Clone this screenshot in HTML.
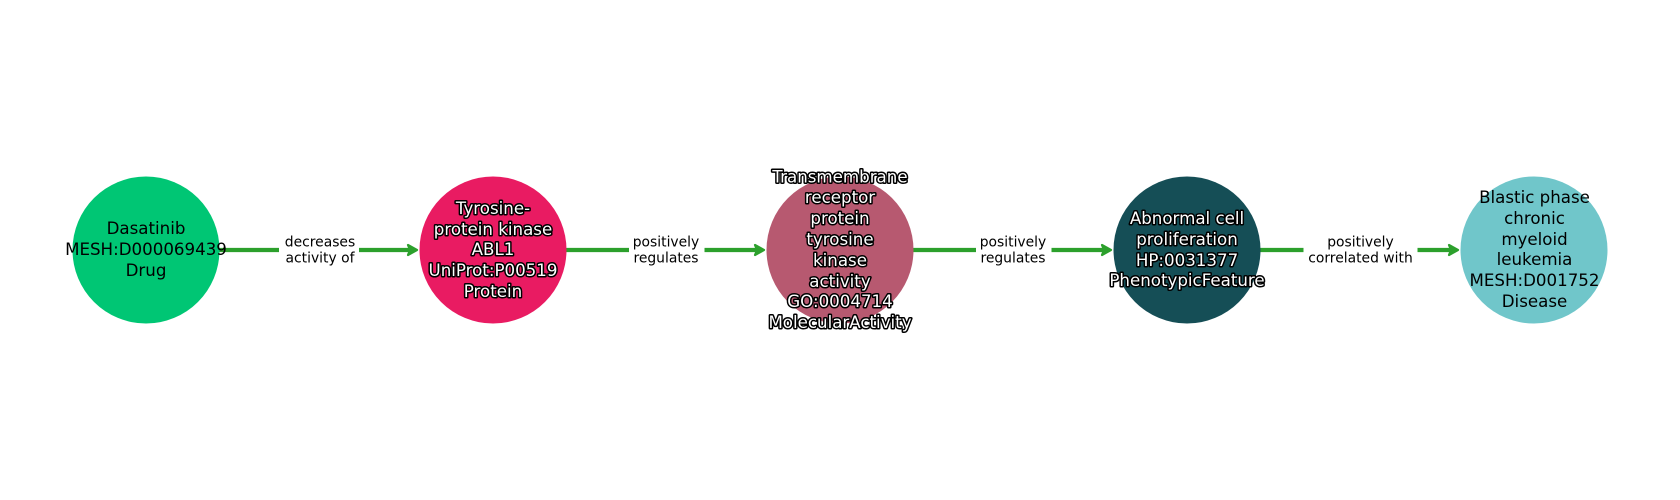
<!DOCTYPE html>
<html><head><meta charset="utf-8"><style>
html,body{margin:0;padding:0;background:#fff;width:1680px;height:500px;overflow:hidden}
svg{display:block}
text{font-family:"DejaVu Sans","Liberation Sans",sans-serif;text-anchor:middle}
.n{font-size:16.67px;fill:#000}
.w{font-size:16.67px;fill:#fff;stroke:#000;stroke-width:3px;paint-order:stroke fill;stroke-linejoin:round}
.e{font-size:13.89px;fill:#000}
</style></head><body>
<svg width="1680" height="500" viewBox="0 0 1680 500" xmlns="http://www.w3.org/2000/svg">
<rect width="1680" height="500" fill="#fff"/>
<g stroke="#2ca02c" stroke-width="4.2" fill="none">
<path d="M146 250H412"/><path d="M493 250H759"/><path d="M840 250H1106"/><path d="M1187 250H1453"/>
</g>
<g fill="#2ca02c" stroke="#2ca02c" stroke-width="2.2" stroke-linejoin="round">
<path d="M408 245L417 250L408 255L410 250Z"/>
<path d="M755 245L764 250L755 255L757 250Z"/>
<path d="M1102 245L1111 250L1102 255L1104 250Z"/>
<path d="M1449 245L1458 250L1449 255L1451 250Z"/>
</g>
<circle cx="146" cy="250" r="73.500" fill="#00c674"/>
<circle cx="493" cy="250" r="73.500" fill="#e91b62"/>
<circle cx="840" cy="250" r="73.500" fill="#b75970"/>
<circle cx="1187" cy="250" r="73.500" fill="#154e56"/>
<circle cx="1534" cy="250" r="73.500" fill="#70c6ca"/>
<rect x="279" y="228" width="80" height="44" fill="#fff"/>
<rect x="629" y="228" width="75.500" height="44" fill="#fff"/>
<rect x="976" y="228" width="75.500" height="44" fill="#fff"/>
<rect x="1303.500" y="228" width="114" height="44" fill="#fff"/>
<text class="e" x="320" y="246.500">decreases</text><text class="e" x="320" y="262.500">activity of</text>
<text class="e" x="666" y="246.500">positively</text><text class="e" x="666" y="262.500">regulates</text>
<text class="e" x="1013" y="246.500">positively</text><text class="e" x="1013" y="262.500">regulates</text>
<text class="e" x="1360.500" y="246.500">positively</text><text class="e" x="1360.500" y="262.500">correlated with</text>
<text class="n" x="146" y="234">Dasatinib</text>
<text class="n" x="146" y="255">MESH:D000069439</text>
<text class="n" x="146" y="276">Drug</text>
<text class="w" x="493" y="214">Tyrosine-</text>
<text class="w" x="493" y="235">protein kinase</text>
<text class="w" x="493" y="255">ABL1</text>
<text class="w" x="493" y="276">UniProt:P00519</text>
<text class="w" x="493" y="297">Protein</text>
<text class="w" x="840" y="182.500">Transmembrane</text>
<text class="w" x="840" y="203">receptor</text>
<text class="w" x="840" y="224">protein</text>
<text class="w" x="840" y="245">tyrosine</text>
<text class="w" x="840" y="266">kinase</text>
<text class="w" x="840" y="287">activity</text>
<text class="w" x="840" y="307">GO:0004714</text>
<text class="w" x="840" y="328">MolecularActivity</text>
<text class="w" x="1187" y="224">Abnormal cell</text>
<text class="w" x="1187" y="245">proliferation</text>
<text class="w" x="1187" y="266">HP:0031377</text>
<text class="w" x="1187" y="286">PhenotypicFeature</text>
<text class="n" x="1534.500" y="203">Blastic phase</text>
<text class="n" x="1534.500" y="224">chronic</text>
<text class="n" x="1534.500" y="245">myeloid</text>
<text class="n" x="1534.500" y="265">leukemia</text>
<text class="n" x="1534.500" y="286">MESH:D001752</text>
<text class="n" x="1534.500" y="307">Disease</text>
</svg>
</body></html>
